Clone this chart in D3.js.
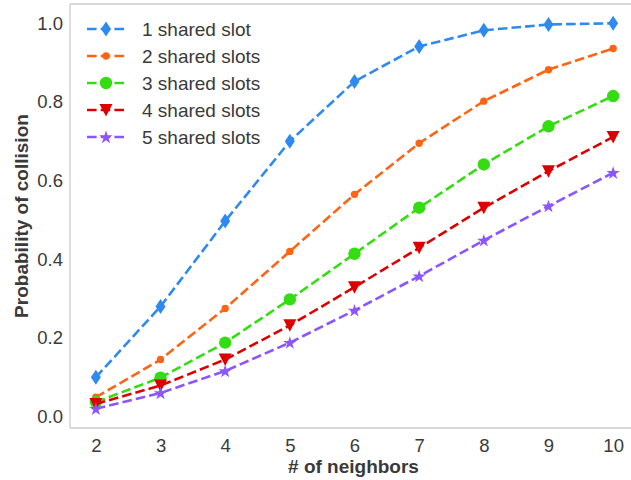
<!DOCTYPE html>
<html>
<head>
<meta charset="utf-8">
<script src="https://cdn.jsdelivr.net/npm/d3@7"></script>
<style>
  html, body { margin: 0; padding: 0; background: #fff; }
  svg { display: block; font-family: "Liberation Sans", Arial, sans-serif; }
</style>
</head>
<body>
<svg id="chart" width="631" height="480"></svg>
<script>
const neighbors = [2, 3, 4, 5, 6, 7, 8, 9, 10];
const seriesNames = ["1 shared slot", "2 shared slots", "3 shared slots", "4 shared slots", "5 shared slots"];
const slot1 = [0.100, 0.280, 0.497, 0.700, 0.852, 0.941, 0.982, 0.997, 1.000];
const slot2 = [0.049, 0.145, 0.275, 0.420, 0.565, 0.695, 0.802, 0.882, 0.936];
const slot3 = [0.037, 0.099, 0.188, 0.298, 0.414, 0.531, 0.641, 0.738, 0.815];
const slot4 = [0.032, 0.079, 0.145, 0.232, 0.329, 0.429, 0.531, 0.624, 0.711];
const slot5 = [0.020, 0.060, 0.116, 0.188, 0.270, 0.357, 0.448, 0.535, 0.620];
const yTicks = [0.0, 0.2, 0.4, 0.6, 0.8, 1.0];
const xLabel = "# of neighbors";
const yLabel = "Probability of collision";

const colors = ["#2f8af0", "#ff6414", "#33dd11", "#dd0000", "#8b55ff"];
const markers = ["thinDiamond", "dot", "circle", "triangleDown", "star"];
const allSeries = [slot1, slot2, slot3, slot4, slot5];

const svg = d3.select("#chart");
const pLeft = 70, pRight = 639, pTop = 4, pBottom = 428;

const x = d3.scaleLinear().domain([1.6, 10.4]).range([pLeft, pRight]);
const y = d3.scaleLinear().domain([-0.029, 1.049]).range([pBottom, pTop]);

// frame (left, top, bottom spines)
const frame = svg.append("g").attr("stroke", "#cccccc").attr("stroke-width", 1.3).attr("fill", "none");
frame.append("line").attr("x1", pLeft).attr("x2", pLeft).attr("y1", pTop).attr("y2", pBottom);
frame.append("line").attr("x1", pLeft).attr("x2", pRight).attr("y1", pTop).attr("y2", pTop);
frame.append("line").attr("x1", pLeft).attr("x2", pRight).attr("y1", pBottom).attr("y2", pBottom);

// axes
const xAxis = d3.axisBottom(x).tickValues(neighbors).tickSize(0).tickPadding(11).tickFormat(d3.format("d"));
const gx = svg.append("g").attr("transform", `translate(0,${pBottom})`).call(xAxis);
gx.select(".domain").remove();
gx.selectAll("text").attr("font-size", 18.5).attr("fill", "#3a3a3a").attr("font-family", "Liberation Sans, Arial, sans-serif");

const yAxis = d3.axisLeft(y).tickValues(yTicks).tickSize(0).tickPadding(7).tickFormat(d3.format(".1f"));
const gy = svg.append("g").attr("transform", `translate(${pLeft},0)`).call(yAxis);
gy.select(".domain").remove();
gy.selectAll("text").attr("font-size", 18.5).attr("fill", "#3a3a3a").attr("font-family", "Liberation Sans, Arial, sans-serif");

// axis labels
svg.append("text").attr("x", 353.5).attr("y", 473)
  .attr("text-anchor", "middle").attr("font-size", 19).attr("font-weight", "bold").attr("fill", "#3a3a3a")
  .text(xLabel);
svg.append("text").attr("transform", `translate(28,${(pTop + pBottom) / 2}) rotate(-90)`)
  .attr("text-anchor", "middle").attr("font-size", 19).attr("font-weight", "bold").attr("fill", "#3a3a3a")
  .text(yLabel);

// marker drawing
function drawMarker(g, type, cx, cy, color) {
  if (type === "thinDiamond") {
    g.append("path").attr("d", `M${cx},${cy - 7.5}L${cx + 5},${cy}L${cx},${cy + 7.5}L${cx - 5},${cy}Z`).attr("fill", color);
  } else if (type === "dot") {
    g.append("circle").attr("cx", cx).attr("cy", cy).attr("r", 3.7).attr("fill", color);
  } else if (type === "circle") {
    g.append("circle").attr("cx", cx).attr("cy", cy).attr("r", 6.2).attr("fill", color);
  } else if (type === "triangleDown") {
    g.append("path").attr("d", `M${cx - 6.5},${cy - 6}L${cx + 6.5},${cy - 6}L${cx},${cy + 6.5}Z`).attr("fill", color);
  } else if (type === "star") {
    g.append("path").attr("d", d3.symbol().type(d3.symbolStar).size(55)()).attr("transform", `translate(${cx},${cy + 0.5})`).attr("fill", color);
  }
}

const line = d3.line().x(d => x(d[0])).y(d => y(d[1]));

allSeries.forEach((vals, i) => {
  const pts = neighbors.map((n, j) => [n, vals[j]]);
  const g = svg.append("g");
  g.append("path").datum(pts).attr("d", line).attr("fill", "none")
    .attr("stroke", colors[i]).attr("stroke-width", 2.6).attr("stroke-dasharray", "9.6,4.1");
  pts.forEach(p => drawMarker(g, markers[i], x(p[0]), y(p[1]), colors[i]));
});

// legend
const legend = svg.append("g");
seriesNames.forEach((name, i) => {
  const ly = 29 + i * 27;
  legend.append("line").attr("x1", 87).attr("x2", 125).attr("y1", ly).attr("y2", ly)
    .attr("stroke", colors[i]).attr("stroke-width", 2.6).attr("stroke-dasharray", "9.6,4.1");
  drawMarker(legend, markers[i], 106, ly, colors[i]);
  legend.append("text").attr("x", 142).attr("y", ly).attr("dy", "0.35em")
    .attr("font-size", 19).attr("fill", "#3a3a3a").text(name);
});
</script>
</body>
</html>
